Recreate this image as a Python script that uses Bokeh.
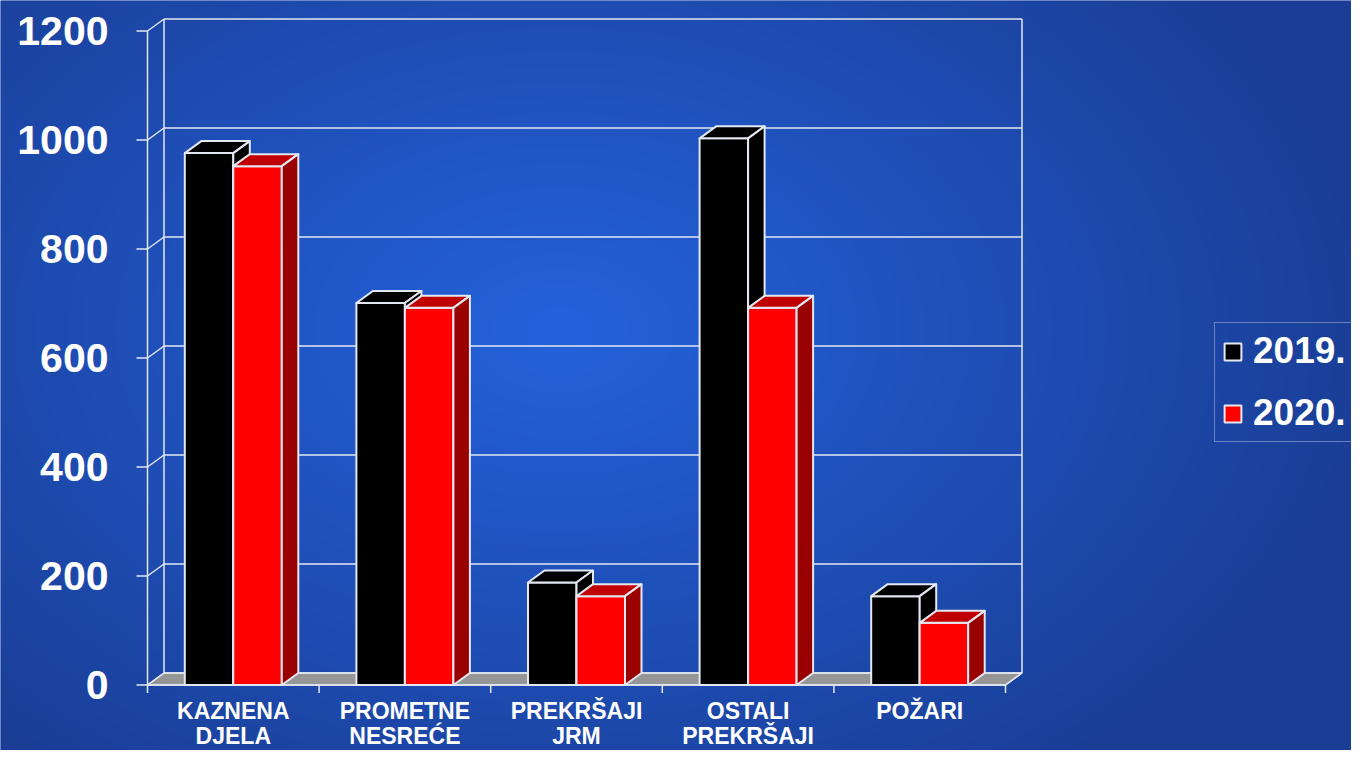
import numpy as np
from bokeh.plotting import figure
from bokeh.models import Range1d, Legend, LegendItem
from bokeh.embed import file_html
from bokeh.resources import INLINE
from bokeh.core.properties import value

# ---------------- data ----------------
categories = ["KAZNENA\nDJELA", "PROMETNE\nNESREĆE", "PREKRŠAJI\nJRM",
              "OSTALI\nPREKRŠAJI", "POŽARI"]
series_names = ["2019.", "2020."]
values_2019 = [976, 701, 188, 1003, 163]
values_2020 = [952, 692, 163, 692, 114]
y_ticks = [0, 200, 400, 600, 800, 1000, 1200]
y_tick_labels = ["0", "200", "400", "600", "800", "1000", "1200"]

# ---------------- layout constants (pixels) ----------------
W, H = 1351, 750
X0_PX = 147.0      # canvas x of first category boundary
XS = 171.6         # px per category
Y0_PX = 684.5      # canvas y (from top) of value 0
YS = 0.545         # px per value unit
DX = 16.5 / XS     # depth offset (data units)
DY = 12.0 / YS
BAR_W = 48.5 / XS
FONT = value("Liberation Sans")

p = figure(width=W, height=H,
           x_range=Range1d(-X0_PX / XS, (W - X0_PX) / XS),
           y_range=Range1d((Y0_PX - H) / YS, Y0_PX / YS),
           x_axis_type=None, y_axis_type=None,
           output_backend="svg", toolbar_location=None,
           min_border_left=0, min_border_right=0,
           min_border_top=0, min_border_bottom=0,
           outline_line_color=None)
p.grid.visible = False
p.background_fill_color = "#1c47a6"
p.border_fill_color = "#1c47a6"

# ---------------- background radial gradient ----------------
nx, ny = W // 2, H // 2
px = (np.arange(nx) + 0.5) * W / nx
py = H - (np.arange(ny) + 0.5) * H / ny   # row 0 = bottom
PX, PY = np.meshgrid(px, py)
t = np.sqrt(((PX - 560) / 820.0) ** 2 + ((PY - 330) / 560.0) ** 2)
t = np.clip(t, 0, 1)
c_in = np.array([36, 98, 220], dtype=float)
c_out = np.array([26, 62, 150], dtype=float)
rgb = c_in[None, None, :] + (c_out - c_in)[None, None, :] * t[..., None]
img = np.empty((ny, nx), dtype=np.uint32)
view = img.view(dtype=np.uint8).reshape((ny, nx, 4))
view[..., 0] = rgb[..., 0].astype(np.uint8)
view[..., 1] = rgb[..., 1].astype(np.uint8)
view[..., 2] = rgb[..., 2].astype(np.uint8)
view[..., 3] = 255
xr0, xr1 = p.x_range.start, p.x_range.end
yr0, yr1 = p.y_range.start, p.y_range.end
p.image_rgba(image=[img], x=xr0, y=yr0, dw=xr1 - xr0, dh=yr1 - yr0)

n = len(categories)
LINE = "#e4e8f2"

# ---------------- floor ----------------
p.patch(x=[0, n, n + DX, DX], y=[0, 0, DY, DY],
        fill_color="#969696", line_color=LINE, line_width=1.5)

# back wall gridlines
p.segment(x0=[DX] * len(y_ticks), y0=[v + DY for v in y_ticks],
          x1=[n + DX] * len(y_ticks), y1=[v + DY for v in y_ticks],
          line_color=LINE, line_width=1.5)
# back wall verticals
p.segment(x0=[DX, n + DX], y0=[DY, DY], x1=[DX, n + DX],
          y1=[y_ticks[-1] + DY] * 2, line_color=LINE, line_width=1.5)
# left wall diagonals
p.segment(x0=[0] * len(y_ticks), y0=y_ticks,
          x1=[DX] * len(y_ticks), y1=[v + DY for v in y_ticks],
          line_color=LINE, line_width=1.5)
# floor right edge
p.segment(x0=[n], y0=[0], x1=[n + DX], y1=[DY], line_color=LINE, line_width=1.5)
# front value axis and ticks
p.segment(x0=[0], y0=[0], x1=[0], y1=[y_ticks[-1]], line_color=LINE, line_width=1.5)
p.segment(x0=[-11 / XS] * len(y_ticks), y0=y_ticks,
          x1=[0] * len(y_ticks), y1=y_ticks, line_color=LINE, line_width=1.5)
# category axis and ticks
p.segment(x0=[0], y0=[0], x1=[n], y1=[0], line_color=LINE, line_width=1.5)
p.segment(x0=list(range(n + 1)), y0=[0] * (n + 1),
          x1=list(range(n + 1)), y1=[-8 / YS] * (n + 1),
          line_color=LINE, line_width=1.5)

# ---------------- 3D bars ----------------
series = [
    (values_2019, "#000000", "#000000", "#000000"),
    (values_2020, "#ff0000", "#c00000", "#990000"),
]
front_renderers = []
for s, (vals, c_front, c_top, c_side) in enumerate(series):
    lefts = [i + 0.5 - BAR_W + s * BAR_W for i in range(n)]
    rights = [l + BAR_W for l in lefts]
    fr = p.quad(left=lefts, right=rights, bottom=[0] * n, top=vals,
                fill_color=c_front, line_color=LINE, line_width=2)
    front_renderers.append(fr)
    top_xs = [[l, r, r + DX, l + DX] for l, r in zip(lefts, rights)]
    top_ys = [[v, v, v + DY, v + DY] for v in vals]
    p.patches(xs=top_xs, ys=top_ys, fill_color=c_top, line_color=LINE,
              line_width=2, line_join="round")
    side_xs = [[r, r + DX, r + DX, r] for r in rights]
    side_ys = [[0, DY, v + DY, v] for v in vals]
    p.patches(xs=side_xs, ys=side_ys, fill_color=c_side, line_color=LINE,
              line_width=2, line_join="round")

# ---------------- texts ----------------
p.text(x=[-39 / XS] * len(y_ticks), y=y_ticks, text=y_tick_labels,
       text_align="right", text_baseline="middle", text_font=FONT,
       text_font_style="bold", text_font_size="41px", text_color="white")

line1 = [c.split("\n")[0] for c in categories]
line2 = [c.split("\n")[1] if "\n" in c else "" for c in categories]
centers = [i + 0.5 for i in range(n)]
p.text(x=centers, y=[(Y0_PX - 697) / YS] * n, text=line1, text_align="center",
       text_baseline="top", text_font=FONT, text_font_style="bold",
       text_font_size="23px", text_color="white")
p.text(x=centers, y=[(Y0_PX - 722) / YS] * n, text=line2, text_align="center",
       text_baseline="top", text_font=FONT, text_font_style="bold",
       text_font_size="23px", text_color="white")

# ---------------- legend ----------------
legend = Legend(items=[LegendItem(label=series_names[k], renderers=[front_renderers[k]])
                       for k in range(2)],
                location=(1214, 308), glyph_width=21, glyph_height=21,
                label_text_font="Liberation Sans", label_text_font_style="bold",
                label_text_font_size="37px", label_text_color="white",
                label_standoff=10, spacing=20, padding=7, margin=0,
                border_line_color="#b8c4e0", border_line_width=1,
                background_fill_alpha=0)
p.add_layout(legend)

open("out.html", "w").write(file_html(p, INLINE))
